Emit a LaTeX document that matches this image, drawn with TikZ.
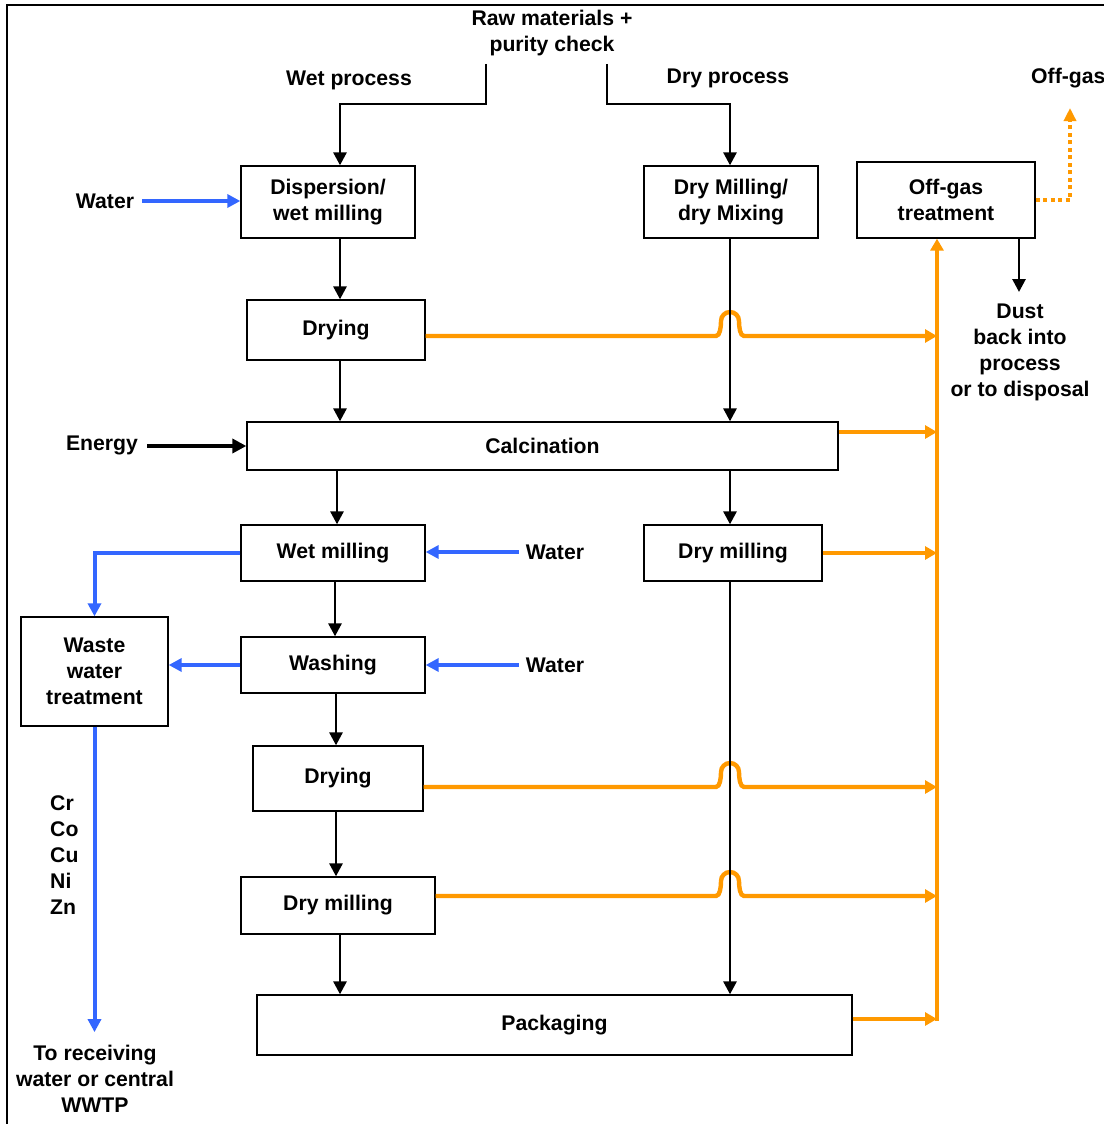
\documentclass[tikz,border=0pt]{standalone}
\usepackage{fontspec}
\setmainfont{Liberation Sans}
\usetikzlibrary{arrows.meta}
\definecolor{og}{HTML}{FF9900}
\definecolor{bl}{HTML}{3366FF}
\begin{document}
\begin{tikzpicture}[x=1pt,y=-1pt,
  every node/.style={font=\bfseries\fontsize{21.2}{26}\selectfont, align=center, inner sep=0pt},
  box/.style={draw, line width=1.3pt, fill=white},
  blk/.style={line width=2.8pt, -{Triangle[length=13pt,width=13pt]}},
  ora/.style={og, line width=4.4pt, -{Triangle[length=12pt,width=13pt]}},
  bla/.style={bl, line width=4pt, -{Triangle[length=13pt,width=13pt]}},
  hump/.style={insert path={.. controls +(4,0) and +(0,6) .. ++(5,-15) arc[start angle=180,end angle=360,radius=9] .. controls +(0,6) and +(-4,0) .. ++(5,15)}}
]
\useasboundingbox (0,0) rectangle (1103,1124);
\draw[line width=2pt] (7,1130) -- (7,5) -- (1110,5);

% texts
\node (raw) at (552,33) {Raw materials +\\purity check};
\node (wetp) at (349,80) {Wet process};
\node (dryp) at (728,78) {Dry process};
\node[anchor=west] (offg) at (1031,78) {Off-gas};
\node (water1) at (105,201) {Water};
\node (energy) at (102,445) {Energy};
\node (water2) at (555,552) {Water};
\node (water3) at (555,665) {Water};
\node (dust) at (1020,352) {Dust\\back into\\process\\or to disposal};
\node[anchor=west, align=left] (metals) at (50,855) {Cr\\Co\\Cu\\Ni\\Zn};
\node (dest) at (95,1079) {To receiving\\water or central\\WWTP};

% boxes
\node[box, minimum width=174pt, minimum height=72pt] (disp) at (328,202) {Dispersion/\\wet milling};
\node[box, minimum width=174pt, minimum height=72pt] (drym) at (731,202) {Dry Milling/\\dry Mixing};
\node[box, minimum width=178pt, minimum height=76pt] (offbox) at (946,200) {Off-gas\\treatment};
\node[box, minimum width=178pt, minimum height=60pt] (dry1) at (336,330) {Drying};
\node[box, minimum width=591pt, minimum height=48pt] (calc) at (542.5,446) {Calcination};
\node[box, minimum width=184pt, minimum height=56pt] (wetm) at (333,553) {Wet milling};
\node[box, minimum width=178pt, minimum height=56pt] (drym2) at (733,553) {Dry milling};
\node[box, minimum width=147pt, minimum height=109pt] (waste) at (94.5,671.5) {Waste\\water\\treatment};
\node[box, minimum width=184pt, minimum height=56pt] (wash) at (333,665) {Washing};
\node[box, minimum width=170pt, minimum height=65pt] (dry2) at (338,778.5) {Drying};
\node[box, minimum width=194pt, minimum height=57pt] (drym3) at (338,905.5) {Dry milling};
\node[box, minimum width=595pt, minimum height=60pt] (pack) at (554.5,1025) {Packaging};

% helper coordinates
\coordinate (rl) at (486,64);
\coordinate (rr) at (607,64);
\coordinate (cw) at (340,104);
\coordinate (cd) at (730,104);
\coordinate (cw2) at (337,0);
\coordinate (cw3) at (335,0);
\coordinate (cw4) at (336,0);
\coordinate (bus) at (937,1021);
\coordinate (dx) at (1019,0);
\coordinate (dtip) at (1019,292);
\coordinate (ogtip) at (1070,108);
\coordinate (en) at (147,446);

% orange lines
\draw[ora] (bus) -- (bus |- offbox.south);
\draw[ora] ([yshift=-6pt]dry1.east) -- (716,336) [hump] -- (937,336);
\coordinate (oc) at ([yshift=14pt]calc.east);
\draw[ora] (oc) -- (oc -| bus);
\draw[ora] (drym2.east) -- (drym2.east -| bus);
\draw[ora] ([yshift=-8.5pt]dry2.east) -- (716,787) [hump] -- (937,787);
\draw[ora] ([yshift=9.5pt]drym3.east) -- (716,896) [hump] -- (937,896);
\coordinate (op) at ([yshift=6pt]pack.east);
\draw[ora] (op) -- (op -| bus);
\draw[og, line width=4pt, dash pattern=on 4pt off 3.5pt, -{Triangle[length=13pt,width=12pt]}] (offbox.east) -| (ogtip);

% black lines
\draw[blk] (rl) |- (cw) -- (cw |- disp.north);
\draw[blk] (rr) |- (cd) -- (cd |- drym.north);
\draw[blk] (cw |- disp.south) -- (cw |- dry1.north);
\draw[blk] (cw |- dry1.south) -- (cw |- calc.north);
\draw[blk] (cd |- drym.south) -- (cd |- calc.north);
\draw[blk, line width=4pt, -{Triangle[length=14pt,width=14pt]}] (en) -- (calc.west);
\draw[blk] (cw2 |- calc.south) -- (cw2 |- wetm.north);
\draw[blk] (cd |- calc.south) -- (cd |- drym2.north);
\draw[blk] (cw3 |- wetm.south) -- (cw3 |- wash.north);
\draw[blk] (cw4 |- wash.south) -- (cw4 |- dry2.north);
\draw[blk] (cw4 |- dry2.south) -- (cw4 |- drym3.north);
\draw[blk] (cw |- drym3.south) -- (cw |- pack.north);
\draw[blk] (cd |- drym2.south) -- (cd |- pack.north);
\draw[blk] (dx |- offbox.south) -- (dtip);

% blue lines
\draw[bla] ([xshift=8pt]water1.east) -- (water1.east -| disp.west);
\draw[bla] ([xshift=-7pt]water2.west) -- (water2.west -| wetm.east);
\draw[bla] ([xshift=-7pt]water3.west) -- (water3.west -| wash.east);
\draw[bla] (wetm.west) -| (waste.north);
\draw[bla] (wash.west) -- (wash.west -| waste.east);
\coordinate (dtop) at ([yshift=13pt]dest.north);
\draw[bla] (waste.south) -- (waste.south |- dtop);
\end{tikzpicture}
\end{document}
